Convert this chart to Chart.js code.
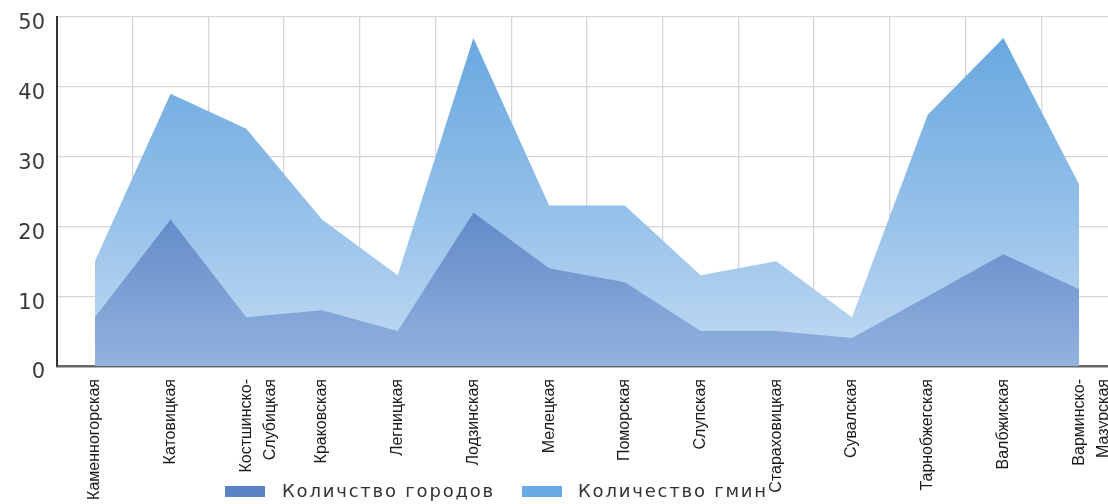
<!DOCTYPE html>
<html>
<head>
<meta charset="utf-8">
<title>Города и гмины по воеводствам</title>
<script src="https://cdn.jsdelivr.net/npm/chart.js@4.4.1/dist/chart.umd.min.js"></script>
<style>
	html, body { margin: 0; padding: 0; overflow: hidden; background: #fff; }
	#wrap { position: relative; width: 1120px; height: 504px; }
	.lg-box { position: absolute; width: 40px; height: 11px; }
	.lg-text { position: absolute; font-family: "DejaVu Sans", sans-serif; font-size: 18px; line-height: 18px;
		color: #333; white-space: nowrap; letter-spacing: 1.8px; }
</style>
</head>
<body>
<div id="wrap">
	<canvas id="chart" width="1120" height="504"></canvas>
</div>
<script>
// воеводства (подписи оси X)
var regions = [
	'Каменногорская', 'Катовицкая', ['Костшинско-', 'Слубицкая'], 'Краковская', 'Легницкая',
	'Лодзинская', 'Мелецкая', 'Поморская', 'Слупская', 'Стараховицкая',
	'Сувалская', 'Тарнобжегская', 'Валбжиская', ['Варминско-', 'Мазурская']
];
var cities = [7, 21, 7, 8, 5, 22, 14, 12, 5, 5, 4, 10, 16, 11];
var gminas = [15, 39, 34, 21, 13, 47, 23, 23, 13, 15, 7, 36, 47, 26];
var yTicks = [0, 10, 20, 30, 40, 50];
var seriesNames = ['Количство городов', 'Количество гмин'];

// заливка сверху вниз
function grad(chart, stops){
	var area = chart.chartArea;
	if(!area) return stops[0][1];
	var g = chart.ctx.createLinearGradient(0, area.top, 0, area.bottom);
	stops.forEach(function(s){ g.addColorStop(s[0], s[1]); });
	return g;
}

var darkStops = [[0, '#4f78c0'], [0.55, '#6189c7'], [1, '#93b2df']];
var lightStops = [[0, '#63a5de'], [0.5, '#8fbde8'], [1, '#c3dbf3']];

// без лишних отступов от подписей
function noPad(scale){
	scale.paddingLeft = 0;
	scale.paddingRight = 0;
	scale.paddingTop = 0;
	scale.paddingBottom = 0;
}

var ctx = document.getElementById('chart').getContext('2d');
var chart = new Chart(ctx, {
	type: 'line',
	data: {
		labels: regions,
		datasets: [{
			label: seriesNames[0],
			data: cities,
			fill: 'origin',
			borderWidth: 0,
			pointRadius: 0,
			tension: 0,
			backgroundColor: function(c){ return grad(c.chart, darkStops); }
		}, {
			label: seriesNames[1],
			data: gminas,
			fill: 'origin',
			borderWidth: 0,
			pointRadius: 0,
			tension: 0,
			backgroundColor: function(c){ return grad(c.chart, lightStops); }
		}]
	},
	options: {
		responsive: false,
		animation: false,
		events: [],
		layout: { padding: { top: 17, right: 3, left: 0, bottom: 0 } },
		plugins: { legend: { display: false }, tooltip: { enabled: false } },
		scales: {
			x: {
				offset: true,
				grid: { offset: true, color: '#d6d6d6', lineWidth: 1.3, drawTicks: false },
				border: { color: '#666', width: 2.5 },
				ticks: {
					autoSkip: false,
					minRotation: 90,
					maxRotation: 90,
					padding: 13,
					color: '#1a1a1a',
					font: { family: '"Liberation Sans", Arial, sans-serif', size: 16, lineHeight: 1.55 }
				},
				afterFit: function(scale){ scale.height = 138; noPad(scale); }
			},
			y: {
				min: 0,
				max: 50,
				afterBuildTicks: function(scale){
					scale.ticks = yTicks.map(function(v){ return { value: v }; });
				},
				grid: { color: '#d6d6d6', lineWidth: 1.3, drawTicks: false },
				border: { color: '#333', width: 2 },
				ticks: {
					padding: 12,
					labelOffset: 7,
					color: '#3a3a3a',
					font: { family: '"DejaVu Sans", sans-serif', size: 21 }
				},
				afterFit: function(scale){ scale.width = 57; noPad(scale); }
			}
		}
	}
});

// легенда внизу
var legendColors = ['#5b82c6', '#6aaae2'];
var legendPos = [{ box: 225, text: 282 }, { box: 522, text: 578 }];
var wrap = document.getElementById('wrap');
seriesNames.forEach(function(name, i){
	var box = document.createElement('div');
	box.className = 'lg-box';
	box.style.left = legendPos[i].box + 'px';
	box.style.top = '486px';
	box.style.background = legendColors[i];
	wrap.appendChild(box);
	var t = document.createElement('div');
	t.className = 'lg-text';
	t.style.left = legendPos[i].text + 'px';
	t.style.top = '482px';
	t.textContent = name;
	wrap.appendChild(t);
});
</script>
</body>
</html>
